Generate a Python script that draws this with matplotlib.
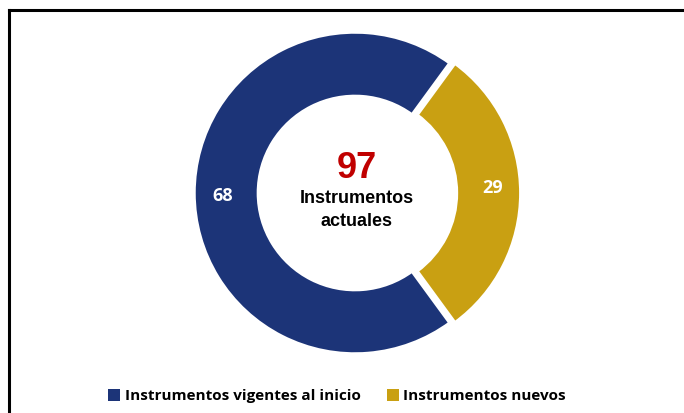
import matplotlib.pyplot as plt
from matplotlib.patches import Rectangle
from matplotlib.lines import Line2D
from matplotlib.transforms import Bbox, TransformedBbox

categorias = ['Instrumentos vigentes al inicio', 'Instrumentos nuevos']
valores = [68, 29]
colores = ['#1c3478', '#c9a012']
total = sum(valores)

fig = plt.figure(figsize=(6.84, 4.13), dpi=100)
W, H = 684, 413

# marco negro (solo se ven los bordes izquierdo y superior)
fig.add_artist(Line2D([9 / W, 9 / W], [0, 1 - 10 / H], color='black', lw=2.2, transform=fig.transFigure))
fig.add_artist(Line2D([9 / W, 1], [1 - 10 / H, 1 - 10 / H], color='black', lw=2.2, transform=fig.transFigure))

# ejes cuadrados centrados en la dona
cx, cy, half = 355, 413 - 193, 180
ax = fig.add_axes([(cx - half) / W, (cy - half) / H, 2 * half / W, 2 * half / H])

ang = 360 * valores[1] / total / 2
wedges, _ = ax.pie(valores, colors=colores, startangle=ang, counterclock=True,
                   radius=1, explode=[0, 0.03],
                   wedgeprops=dict(width=0.4, edgecolor='white', linewidth=2.5))
lim = half / 161
ax.set_xlim(-lim, lim)
ax.set_ylim(-lim, lim)
ax.set_aspect('equal')
ax.axis('off')

# etiquetas de valor dentro de cada segmento
ax.text(-0.82, -0.02, str(valores[0]), color='white', fontsize=13, fontweight='bold',
        ha='center', va='center', family='Open Sans')
ax.text(0.857, 0.028, str(valores[1]), color='white', fontsize=13, fontweight='bold',
        ha='center', va='center', family='Open Sans')

# total en el centro
ax.text(0.01, 0.15, str(total), color='#c00000', fontsize=26, fontweight='bold',
        ha='center', va='center', family='Liberation Sans')
ax.text(0.01, -0.037, 'Instrumentos', color='black', fontsize=13, fontweight='bold',
        ha='center', va='center', family='Liberation Sans')
t = ax.text(0.01, -0.174, 'actuales', color='black', fontsize=13, fontweight='bold',
            ha='center', va='center', family='Liberation Sans')
# la caja de texto corta la parte baja de "actuales"
t.set_clip_box(TransformedBbox(Bbox([[-0.6, -0.211], [0.6, 0.6]]), ax.transData))
t.set_clip_on(True)

handles = [Rectangle((0, 0), 1, 1, facecolor=c, edgecolor='none') for c in colores]
fig.legend(handles, categorias, loc='center', bbox_to_anchor=(337 / W, 17 / H), ncol=2,
           frameon=False, handlelength=0.8, handleheight=0.8, handletextpad=0.3,
           columnspacing=1.7, prop=dict(family='Open Sans', weight='bold', size=11))

fig.savefig('out.png', dpi=100)
